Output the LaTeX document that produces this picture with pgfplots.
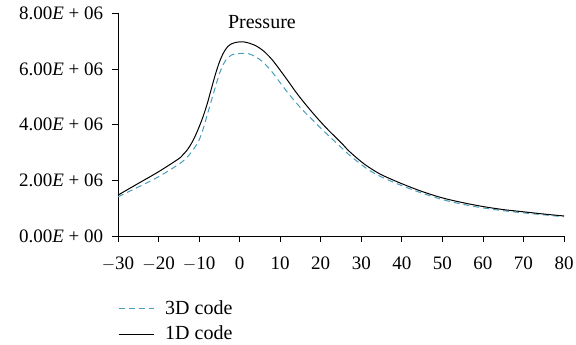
\documentclass[border=0pt]{standalone}
\usepackage{fontspec}
\setmainfont{Liberation Serif}
\usepackage{pgfplots}
\pgfplotsset{compat=1.18}
\definecolor{blu}{RGB}{72,158,188}
\begin{document}
\fontsize{17}{20}\selectfont
\begin{tikzpicture}
\begin{axis}[
  scale only axis, width=446pt, height=222.5pt,
  at={(0,0)}, anchor=south west,
  xmin=-30, xmax=80, ymin=0, ymax=8e6,
  axis lines=left, axis line style={-, line width=0.8pt},
  tick align=outside, tick style={black, line width=0.8pt}, major tick length=6pt,
  xtick={-30,-20,...,80},
  xticklabels={$-$30,$-$20,$-$10,0,10,20,30,40,50,60,70,80},
  ytick={0,2e6,4e6,6e6,8e6},
  yticklabels={0.00\textit{E} + 00,2.00\textit{E} + 06,4.00\textit{E} + 06,6.00\textit{E} + 06,8.00\textit{E} + 06},
  scaled y ticks=false,
  xticklabel style={font=\fontsize{19}{20}\selectfont, yshift=-9pt},
  yticklabel style={font=\fontsize{19}{20}\selectfont, xshift=-3pt},
  legend style={draw=none, fill=none, at={(0,-0.28)}, anchor=north west, inner sep=0pt, font=\fontsize{20}{22}\selectfont, row sep=5pt, legend cell align=left},
  legend image code/.code={\draw[#1] (0pt,0pt) -- (35pt,0pt); \path (44pt,0pt);},
  clip=false,
]
\addplot[blu, line width=1pt, smooth, dash pattern=on 6pt off 4pt] coordinates {
(-30,1.41e6)(-25,1.76e6)(-20,2.13e6)(-15,2.58e6)(-13,2.82e6)(-12,3.0e6)(-11,3.2e6)(-10,3.45e6)(-9,3.85e6)(-8,4.35e6)(-7,4.85e6)(-6,5.35e6)(-5,5.83e6)(-4,6.18e6)(-3,6.40e6)(-2,6.51e6)(0,6.56e6)(2,6.56e6)(4,6.44e6)(6,6.22e6)(8,5.90e6)(10,5.51e6)(12,5.13e6)(14,4.78e6)(16,4.46e6)(18,4.17e6)(20,3.88e6)(22,3.6e6)(25,3.19e6)(27,2.92e6)(30,2.57e6)(32,2.36e6)(35,2.12e6)(40,1.81e6)(45,1.54e6)(50,1.31e6)(55,1.14e6)(60,1.01e6)(65,0.91e6)(70,0.83e6)(75,0.76e6)(80,0.69e6)
};
\addlegendentry{3D code}
\addplot[black, line width=1pt, smooth] coordinates {
(-30,1.47e6)(-25,1.89e6)(-20,2.31e6)(-15,2.78e6)(-14,2.92e6)(-13,3.08e6)(-12,3.30e6)(-11,3.58e6)(-10,3.92e6)(-9,4.30e6)(-8,4.75e6)(-7,5.28e6)(-6,5.80e6)(-5,6.25e6)(-4,6.58e6)(-3,6.80e6)(-2,6.91e6)(-1,6.96e6)(0,6.98e6)(1,6.98e6)(2,6.95e6)(4,6.84e6)(6,6.64e6)(8,6.34e6)(10,5.96e6)(12,5.56e6)(14,5.15e6)(16,4.78e6)(18,4.43e6)(20,4.10e6)(22,3.79e6)(25,3.36e6)(27,3.05e6)(30,2.67e6)(32,2.46e6)(35,2.20e6)(40,1.88e6)(45,1.60e6)(50,1.37e6)(55,1.20e6)(60,1.06e6)(65,0.95e6)(70,0.87e6)(75,0.79e6)(80,0.72e6)
};
\addlegendentry{1D code}
\node[font=\fontsize{20}{22}\selectfont] at (axis cs:5.5,7.7e6) {Pressure};
\end{axis}
\pgfresetboundingbox
\useasboundingbox (-118pt,-109pt) rectangle (458pt,236pt);
\end{tikzpicture}
\end{document}
